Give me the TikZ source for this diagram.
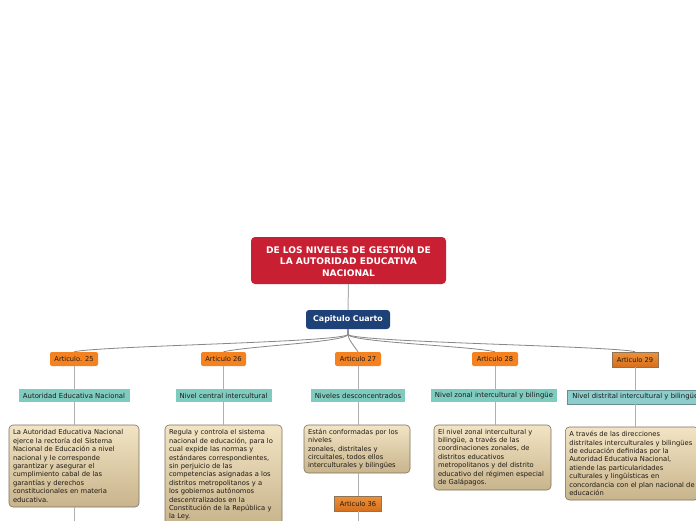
\documentclass[tikz,border=0pt]{standalone}
\usepackage{fontspec}
\setmainfont{DejaVu Sans}
\definecolor{titlered}{RGB}{200,31,50}
\definecolor{capblue}{RGB}{30,66,120}
\definecolor{artorange}{RGB}{245,130,32}
\definecolor{artorangeA}{RGB}{238,145,55}
\definecolor{artorangeB}{RGB}{214,112,30}
\definecolor{artborder}{RGB}{140,115,90}
\definecolor{tealc}{RGB}{126,204,192}
\definecolor{tealsel}{RGB}{140,206,206}
\definecolor{tealborder}{RGB}{105,140,140}
\definecolor{tantop}{RGB}{242,228,196}
\definecolor{tanbot}{RGB}{200,180,140}
\definecolor{tanborder}{RGB}{125,115,95}
\definecolor{linegray}{RGB}{175,175,175}
\definecolor{conngray}{RGB}{135,135,135}
\definecolor{txt}{RGB}{30,25,20}
\tikzset{
  titlebox/.style={fill=titlered, rounded corners=4pt, text=white, align=center,
    font=\fontsize{9.1}{11.6}\selectfont\bfseries, inner sep=0pt},
  capbox/.style={fill=capblue, rounded corners=3pt, text=white,
    font=\fontsize{7.9}{9}\selectfont\bfseries, inner sep=0pt},
  artbox/.style={fill=artorange, rounded corners=2pt, text=txt, minimum height=14pt,
    font=\fontsize{6.7}{7.5}\selectfont, inner sep=0pt},
  artsel/.style={top color=artorangeA, bottom color=artorangeB, draw=artborder, line width=0.6pt,
    minimum height=15pt, text=txt, font=\fontsize{6.7}{7.5}\selectfont, inner sep=0pt},
  tealbox/.style={fill=tealc, text=txt, minimum height=13pt,
    font=\fontsize{6.9}{7.5}\selectfont, inner sep=0pt},
  tealselbox/.style={fill=tealsel, draw=tealborder, line width=0.6pt, text=txt, minimum height=14pt,
    font=\fontsize{6.9}{7.5}\selectfont, inner ysep=0pt, inner xsep=5pt, anchor=west},
  tanbox/.style={top color=tantop, bottom color=tanbot, draw=tanborder, line width=0.6pt,
    rounded corners=4pt, text=txt, align=left, inner xsep=4pt, inner ysep=0pt,
    font=\fontsize{6.75}{8.4}\selectfont},
  vline/.style={draw=linegray, line width=1pt},
  conn/.style={draw=conngray, line width=0.8pt},
}
\begin{document}
\begin{tikzpicture}[x=1pt,y=-1pt]
\useasboundingbox (0,0) rectangle (696,520);
\clip (0,0) rectangle (696,520);
\fill[white] (0,0) rectangle (696,520);

% title and chapter
\node[titlebox, minimum width=195pt, minimum height=47pt] (title) at (348.5,260.5)
  {DE LOS NIVELES DE GESTIÓN DE\\LA AUTORIDAD EDUCATIVA\\NACIONAL};
\node[capbox, minimum width=84pt, minimum height=19pt] (cap) at (348,319.5) {Capitulo Cuarto};

% articles
\node[artbox, minimum width=48pt] (a25) at (74,359) {Articulo. 25};
\node[artbox, minimum width=45pt] (a26) at (223.5,359) {Articulo 26};
\node[artbox, minimum width=46pt] (a27) at (358,359) {Articulo 27};
\node[artbox, minimum width=46pt] (a28) at (495,359) {Articulo 28};
\node[artsel, minimum width=46pt] (a29) at (635,359.5) {Articulo 29};
\node[artsel, minimum width=47pt] (a36) at (358,503.5) {Articulo 36};

% teal level boxes
\node[tealbox, minimum width=111pt] (t25) at (74,395.5) {Autoridad Educativa Nacional};
\node[tealbox, minimum width=96pt] (t26) at (223.5,395.5) {Nivel central intercultural};
\node[tealbox, minimum width=94pt] (t27) at (358,395.5) {Niveles desconcentrados};
\node[tealbox, minimum width=126pt] (t28) at (494,395.5) {Nivel zonal intercultural y bilingüe};
\node[tealselbox] (t29) at (567,397) {Nivel distrital intercultural y bilingüe};

% description boxes
\node[tanbox, text width=122pt, minimum height=82pt] (b25) at (74,466)
  {La Autoridad Educativa Nacional\\ejerce la rectoría del Sistema\\Nacional de Educación a nivel\\nacional y le corresponde\\garantizar y asegurar el\\cumplimiento cabal de las\\garantías y derechos\\constitucionales en materia\\educativa.};
\node[tanbox, text width=109pt, minimum height=100pt] (b26) at (223.5,475)
  {Regula y controla el sistema\\nacional de educación, para lo\\cual expide las normas y\\estándares correspondientes,\\sin perjuicio de las\\competencias asignadas a los\\distritos metropolitanos y a\\los gobiernos autónomos\\descentralizados en la\\Constitución de la República y\\la Ley.};
\node[tanbox, text width=98pt, minimum height=48pt] (b27) at (357,449)
  {Están conformadas por los\\niveles\\zonales, distritales y\\circuitales, todos ellos\\interculturales y bilingües};
\node[tanbox, text width=109pt, minimum height=65pt] (b28) at (492.5,457.5)
  {El nivel zonal intercultural y\\bilingüe, a través de las\\coordinaciones zonales, de\\distritos educativos\\metropolitanos y del distrito\\educativo del régimen especial\\de Galápagos.};
\node[tanbox, minimum height=73pt, anchor=west] (b29) at (565,463.5)
  {A través de las direcciones\\distritales interculturales y bilingües\\de educación definidas por la\\Autoridad Educativa Nacional,\\atiende las particularidades\\culturales y lingüísticas en\\concordancia con el plan nacional de\\educación};

% connectors
\draw[vline] (title.south) -- (cap.north);
\draw[conn] (cap.south) -- ++(0,5) .. controls +(0,8) and +(25,-6) .. (a25.north);
\draw[conn] (cap.south) -- ++(0,5) .. controls +(0,8) and +(25,-6) .. (a26.north);
\draw[conn] (cap.south) -- ++(0,5) .. controls +(0,5) and +(-4,-6) .. (a27.north);
\draw[conn] (cap.south) -- ++(0,5) .. controls +(0,8) and +(-25,-6) .. (a28.north);
\draw[conn] (cap.south) -- ++(0,5) .. controls +(0,8) and +(-25,-6) .. (a29.north);

\draw[vline] (a25.south) -- (a25.south |- t25.north);
\draw[vline] (a25.south |- t25.south) -- (a25.south |- b25.north);
\draw[vline] (a25.south |- b25.south) -- ++(0,20);

\draw[vline] (a26.south) -- (a26.south |- t26.north);
\draw[vline] (a26.south |- t26.south) -- (a26.south |- b26.north);

\draw[vline] (a27.south) -- (a27.south |- t27.north);
\draw[vline] (a27.south |- t27.south) -- (a27.south |- b27.north);
\draw[vline] (a27.south |- b27.south) -- (a36.north);
\draw[vline] (a36.south) -- ++(0,20);

\draw[vline] (a28.south) -- (a28.south |- t28.north);
\draw[vline] (a28.south |- t28.south) -- (a28.south |- b28.north);

\draw[vline] (a29.south) -- (a29.south |- t29.north);
\draw[vline] (a29.south |- t29.south) -- (a29.south |- b29.north);
\end{tikzpicture}
\end{document}
